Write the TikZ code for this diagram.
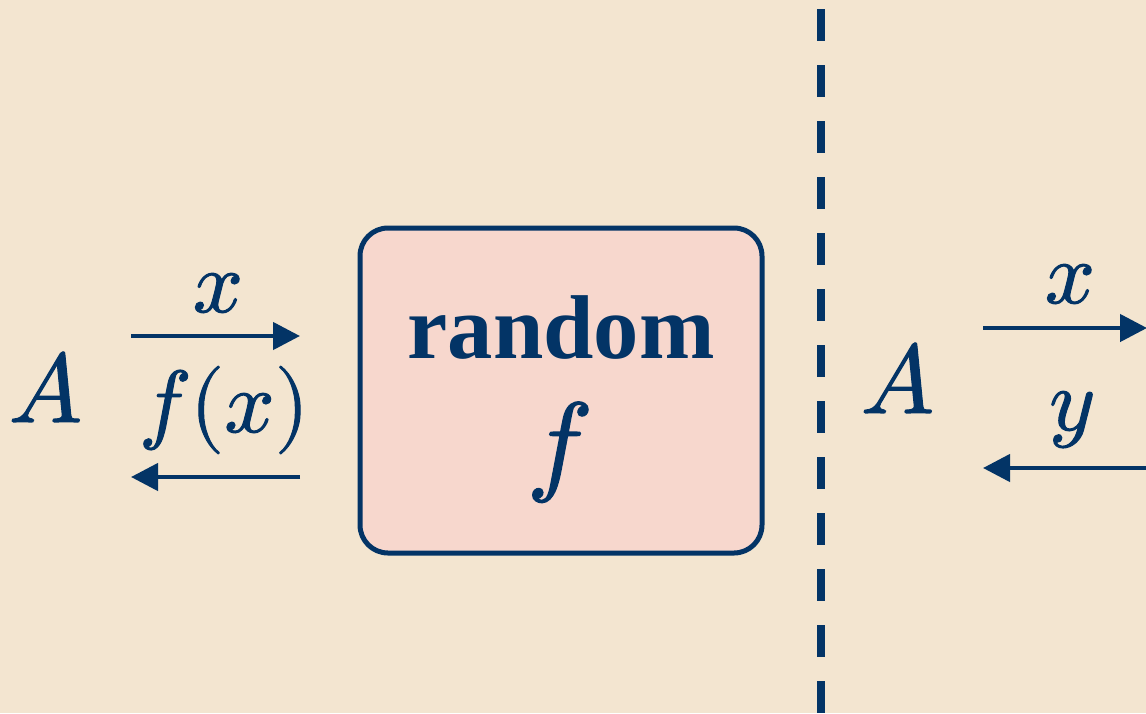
\documentclass[tikz,border=0pt]{standalone}
\usepackage{fontspec}
\usepackage{unicode-math}
\setmathfont{Latin Modern Math}[FakeBold=1.2]
\newfontfamily\boxfont{Liberation Serif}
\usetikzlibrary{arrows.meta}
\definecolor{bgc}{RGB}{243,229,208}
\definecolor{navy}{RGB}{3,52,102}
\definecolor{boxfill}{RGB}{247,215,205}
\tikzset{
  lbl/.style={text=navy,inner sep=0pt,anchor=base,font=\fontsize{88}{96}\selectfont},
  bigA/.style={text=navy,inner sep=0pt,anchor=base,font=\fontsize{98}{110}\selectfont},
  arr/.style={draw=navy,line width=4.5pt,-{Triangle[length=27pt,width=27pt]}},
  fbox/.style={draw=navy,fill=boxfill,line width=5pt,rounded corners=28pt,minimum width=402pt,minimum height=325pt,inner sep=0pt},
  divider/.style={draw=navy,line width=8pt,dash pattern=on 32pt off 24pt}
}
\begin{document}
\begin{tikzpicture}[x=1pt,y=-1pt]
\fill[bgc] (0,0) rectangle (1146,713);
\useasboundingbox (0,0) rectangle (1146,713);
\begin{scope}
\clip (0,0) rectangle (1146,713);
% divider
\coordinate (dtop) at (821,9);
\coordinate (dbot) at (821,760);
\draw[divider] (dtop) -- (dbot);
% box
\node[fbox] (box) at (561,390.5) {};
\node[text=navy,inner sep=0pt,anchor=base,font=\boxfont\bfseries\fontsize{90.6}{96}\selectfont] (rnd) at (561,358) {random};
\node[text=navy,inner sep=0pt,anchor=base,font=\fontsize{111}{120}\selectfont] (ff) at (559,480) {$f$};
% left side
\node[bigA] (A1) at (45.5,422) {$A$};
\coordinate (l1s) at (131,336);
\coordinate (l1e) at (300,336);
\draw[arr] (l1s) -- (l1e);
\node[lbl] (lx) at (218,312) {$x$};
\node[lbl] (lfx) at (224,432) {$f(x)$};
\coordinate (l2s) at (300,477);
\coordinate (l2e) at (131,477);
\draw[arr] (l2s) -- (l2e);
% right side
\node[bigA] (A2) at (897.5,413) {$A$};
\coordinate (r1s) at (983,328);
\coordinate (r1e) at (1147,328);
\draw[arr] (r1s) -- (r1e);
\node[lbl] (rx) at (1070,303) {$x$};
\node[lbl] (ry) at (1072,430) {$y$};
\coordinate (r2s) at (1160,468);
\coordinate (r2e) at (983,468);
\draw[arr] (r2s) -- (r2e);
\end{scope}
\end{tikzpicture}
\end{document}
